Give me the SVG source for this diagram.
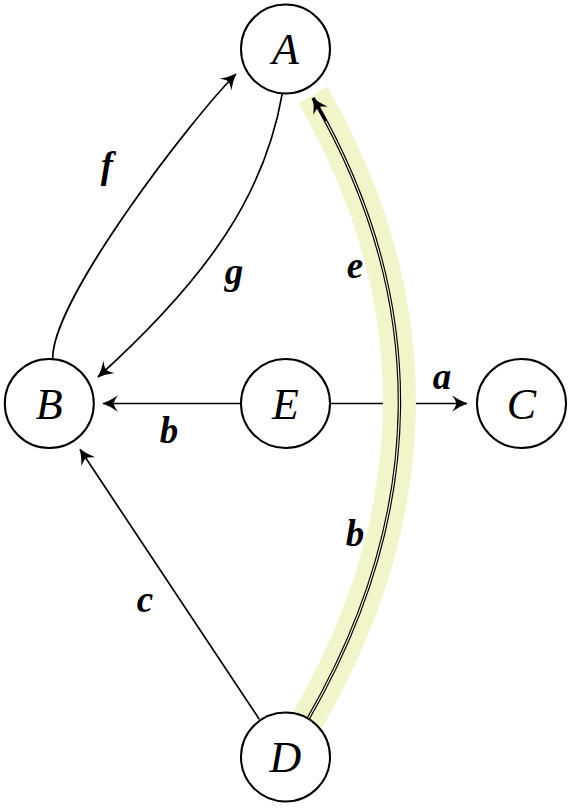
<svg xmlns="http://www.w3.org/2000/svg" width="572" height="808" viewBox="0 0 572 808">
  <style>
    .node circle { fill: #ffffff; stroke: #000000; stroke-width: 2; }
    .node text { font-family: "Liberation Serif", "DejaVu Serif", serif; font-style: italic; font-size: 44px; text-anchor: middle; fill: #000000; }
    .edge { fill: none; stroke: #000000; stroke-width: 1.7; }
    .lbl { font-family: "Liberation Serif", "DejaVu Serif", serif; font-style: italic; font-weight: bold; font-size: 37px; text-anchor: middle; fill: #000000; }
    .hl { fill: none; stroke: #f2f5c9; stroke-width: 33; stroke-linecap: butt; }
    .dbl-out { fill: none; stroke: #000000; stroke-width: 3.5; }
    .dbl-in { fill: none; stroke: #f2f5c9; stroke-width: 1.2; }
  </style>
  <defs>
    <marker id="arr" markerUnits="userSpaceOnUse" orient="auto" refX="0" refY="0" markerWidth="20" markerHeight="20" viewBox="-14 -8 16 16" overflow="visible">
      <path d="M0.5,0 Q-5.5,-2 -12,-6.6 Q-8.3,-1.6 -8.8,0 Q-8.3,1.6 -12,6.6 Q-5.5,2 0.5,0 Z" fill="#000000"/>
    </marker>
  </defs>

  <g id="connectors">
    <!-- f: B to A -->
    <path class="edge" d="M52.7,358.3 C52.7,298.3 192.4,117.6 236,74" marker-end="url(#arr)"/>
    <!-- g: A to B -->
    <path class="edge" d="M282.3,93.3 C265.2,192.3 210.7,275 98,377" marker-end="url(#arr)"/>
    <!-- b: E to B -->
    <path class="edge" d="M241,403.5 L103,403.5" marker-end="url(#arr)"/>
    <!-- a: E to C -->
    <path class="edge" d="M330,403.5 L467,403.5" marker-end="url(#arr)"/>
    <!-- c: D to B -->
    <path class="edge" d="M259.3,719.3 L80,449.3" marker-end="url(#arr)"/>
    <!-- highlighted double edge D to A -->
    <path class="hl" d="M308,719 C426.5,513.8 431.5,302.2 313,95"/>
    <path class="dbl-out" d="M308,719 C426.5,513.8 431.5,302.2 313,98" marker-end="url(#arr)"/>
    <path class="dbl-in" d="M308,719 C426.5,513.8 431.5,302.2 313,98" pathLength="100" stroke-dasharray="96 100"/>
    <!-- labels -->
    <text class="lbl" x="107" y="178">f</text>
    <text class="lbl" x="234" y="284">g</text>
    <text class="lbl" x="169" y="443">b</text>
    <text class="lbl" x="442" y="389">a</text>
    <text class="lbl" x="145" y="612">c</text>
    <text class="lbl" x="355" y="278">e</text>
    <text class="lbl" x="355" y="546">b</text>
  </g>

  <g id="node-A" class="node">
    <circle cx="285.5" cy="49" r="44.5"/>
    <text x="285.5" y="64">A</text>
  </g>
  <g id="node-B" class="node">
    <circle cx="49.3" cy="403.5" r="44.5"/>
    <text x="49.3" y="418.5">B</text>
  </g>
  <g id="node-E" class="node">
    <circle cx="285.5" cy="403.5" r="44.5"/>
    <text x="285.5" y="418.5">E</text>
  </g>
  <g id="node-C" class="node">
    <circle cx="521.5" cy="403.5" r="44.5"/>
    <text x="521.5" y="418.5">C</text>
  </g>
  <g id="node-D" class="node">
    <circle cx="285.5" cy="757" r="44.5"/>
    <text x="285.5" y="772">D</text>
  </g>
</svg>
